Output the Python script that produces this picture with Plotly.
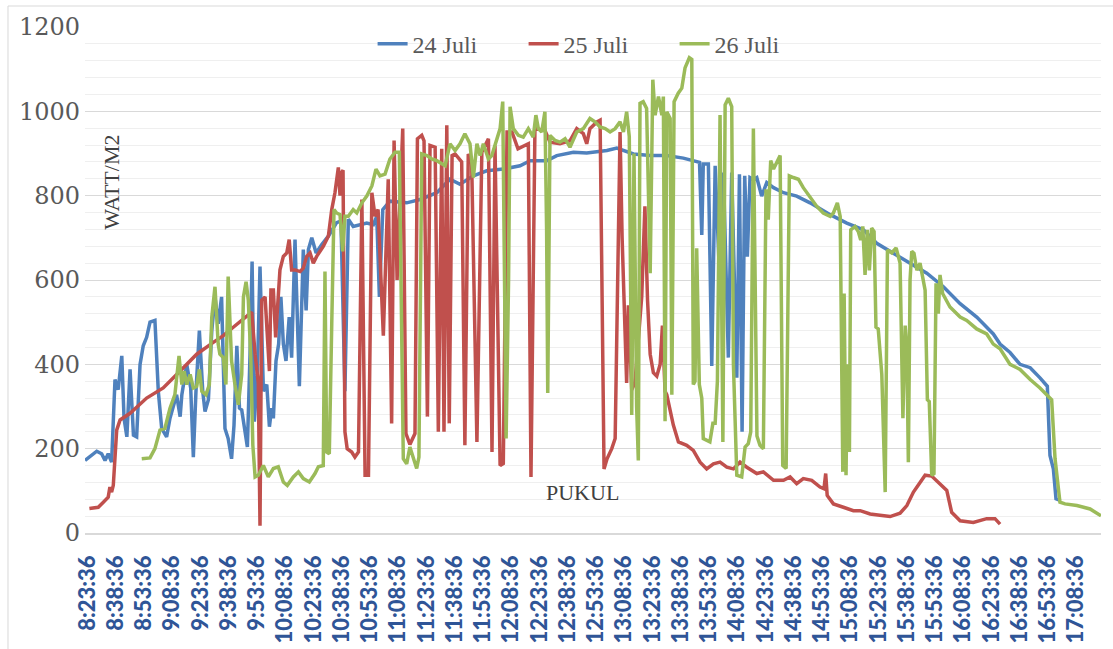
import plotly.graph_objects as go

# x-axis tick labels (time of day)
tick_labels = ["8:23:36", "8:38:36", "8:53:36", "9:08:36", "9:23:36", "9:38:36", "9:53:36",
               "10:08:36", "10:23:36", "10:38:36", "10:53:36", "11:08:36", "11:23:36", "11:38:36",
               "11:53:36", "12:08:36", "12:23:36", "12:38:36", "12:53:36", "13:08:36", "13:23:36",
               "13:38:36", "13:53:36", "14:08:36", "14:23:36", "14:38:36", "14:53:36", "15:08:36",
               "15:23:36", "15:38:36", "15:53:36", "16:08:36", "16:23:36", "16:38:36", "16:53:36",
               "17:08:36"]

series_names = ["24 Juli", "25 Juli", "26 Juli"]

# minutes elapsed since 8:23:36 and irradiance (W/m2)
t_24 = [-1.3, 4.9, 7.5, 9.3, 11.0, 12.8, 14.6, 16.3, 18.2, 19.4,
        20.9, 22.6, 24.4, 26.1, 27.9, 29.6, 31.4, 33.2, 35.8, 37.6,
        39.4, 42.0, 43.8, 45.5, 47.3, 49.2, 50.1, 52.7, 54.8, 56.2,
        57.6, 59.4, 61.2, 62.4, 64.2, 66.0, 67.7, 69.4, 71.2, 73.0,
        74.7, 76.5, 77.8, 79.3, 80.7, 81.9, 83.7, 84.9, 86.3, 87.4,
        88.6, 90.2, 91.6, 93.4, 95.2, 96.6, 97.8, 98.7, 100.1, 101.5,
        102.7, 104.0, 105.4, 107.1, 108.4, 110.2, 112.5, 114.6, 116.1, 117.3,
        119.1, 121.4, 124.4, 127.9, 132.3, 134.6, 136.7, 138.5, 141.1, 144.8,
        148.3, 151.8, 153.6, 155.0, 156.8, 160.6, 169.5, 176.6, 185.5, 192.5,
        197.8, 204.9, 212.0, 220.8, 229.7, 235.0, 243.9, 249.2, 258.0, 265.1,
        275.8, 281.1, 289.9, 298.8, 307.6, 316.4, 323.5, 325.0, 326.2, 327.0,
        329.7, 331.5, 333.3, 335.9, 337.7, 340.3, 342.1, 344.8, 346.2, 347.6,
        349.0, 350.4, 351.8, 353.6, 355.4, 358.0, 360.7, 364.3, 369.6, 376.6,
        383.7, 394.4, 403.2, 412.0, 419.1, 428.0, 436.8, 445.7, 454.5, 463.4,
        472.2, 481.0, 484.6, 489.9, 495.2, 500.6, 505.8, 509.7, 511.1, 512.9,
        514.3, 516.8]
v_24 = [172, 194, 188, 172, 188, 168, 364, 340, 420, 272,
        228, 388, 232, 228, 400, 444, 464, 500, 504, 336,
        248, 228, 272, 296, 328, 276, 328, 400, 344, 180,
        336, 480, 336, 288, 316, 480, 560, 496, 560, 248,
        224, 176, 256, 444, 296, 292, 232, 204, 424, 644,
        264, 376, 632, 336, 352, 252, 296, 272, 408, 448,
        560, 448, 408, 512, 416, 696, 348, 672, 528, 672,
        700, 664, 684, 704, 736, 740, 336, 744, 727, 731,
        735, 731, 751, 560, 767, 787, 783, 791, 807, 839,
        827, 847, 859, 863, 871, 883, 883, 895, 903, 901,
        907, 913, 899, 895, 895, 889, 879, 879, 707, 875,
        875, 396, 871, 576, 855, 416, 855, 368, 851, 240,
        847, 655, 843, 839, 843, 799, 831, 819, 807, 799,
        783, 755, 735, 719, 687, 664, 640, 616, 584, 544,
        512, 472, 448, 428, 400, 392, 368, 348, 184, 152,
        81, 77]

t_25 = [1.0, 5.7, 8.4, 11.0, 11.9, 12.8, 13.7, 15.5, 17.3, 22.6,
        31.4, 40.2, 49.2, 58.0, 66.8, 72.1, 77.4, 82.8, 87.2, 89.0,
        90.7, 91.6, 92.5, 94.3, 95.5, 96.6, 97.4, 98.7, 99.9, 101.2,
        102.2, 104.0, 105.8, 107.1, 108.4, 110.2, 112.9, 114.6, 116.4, 118.2,
        119.9, 121.7, 125.2, 127.9, 129.7, 131.4, 133.2, 134.1, 134.9, 135.7,
        136.7, 137.9, 140.3, 142.0, 143.9, 145.7, 147.4, 149.2, 151.0, 152.7,
        154.3, 157.1, 159.7, 161.5, 162.8, 164.4, 167.4, 169.1, 171.2, 173.9,
        175.2, 177.5, 178.7, 180.5, 181.9, 184.6, 186.3, 188.1, 189.3, 190.8,
        192.1, 193.6, 195.2, 198.7, 200.4, 202.2, 204.0, 206.8, 209.4, 212.9,
        214.8, 216.4, 219.1, 220.8, 222.8, 225.4, 228.6, 234.1, 235.5, 237.6,
        242.9, 245.6, 250.9, 256.2, 259.8, 263.3, 265.1, 266.8, 270.5, 272.2,
        274.3, 275.9, 278.4, 280.2, 282.8, 283.9, 286.3, 287.2, 289.0, 290.7,
        294.3, 296.0, 297.4, 298.8, 300.5, 302.3, 304.1, 305.3, 306.7, 307.6,
        311.1, 313.8, 318.2, 321.7, 325.3, 328.8, 332.4, 335.9, 339.5, 343.0,
        346.5, 350.1, 355.4, 358.9, 364.3, 369.6, 373.1, 376.6, 380.1, 384.6,
        389.0, 391.1, 392.0, 392.8, 396.1, 401.4, 406.7, 410.3, 415.6, 420.8,
        426.2, 431.5, 435.1, 438.6, 442.1, 444.8, 448.3, 451.8, 456.3, 458.9,
        463.4, 470.4, 477.5, 481.9, 484.6]
v_25 = [58, 61, 73, 85, 109, 97, 113, 244, 268, 284,
        320, 344, 384, 424, 452, 468, 488, 508, 524, 424,
        356, 17, 552, 560, 448, 384, 576, 576, 464, 576,
        624, 656, 664, 696, 624, 624, 620, 628, 656, 664,
        640, 656, 680, 704, 767, 807, 867, 800, 855, 860,
        240, 200, 192, 180, 192, 791, 137, 137, 807, 751,
        767, 468, 839, 260, 931, 600, 959, 236, 210, 236,
        935, 943, 930, 276, 919, 915, 240, 911, 240, 967,
        260, 895, 899, 880, 208, 899, 879, 216, 903, 935,
        192, 919, 160, 165, 951, 951, 911, 923, 133, 959,
        955, 927, 923, 930, 959, 947, 923, 959, 975, 979,
        152, 176, 200, 224, 951, 700, 356, 540, 340, 356,
        560, 775, 552, 424, 380, 372, 400, 492, 336, 328,
        256, 216, 208, 196, 168, 152, 164, 168, 156, 152,
        168, 156, 141, 145, 125, 125, 133, 117, 129, 125,
        109, 105, 141, 89, 69, 61, 53, 53, 45, 42,
        39, 47, 65, 97, 121, 137, 135, 121, 101, 49,
        29, 25, 34, 34, 21]

t_26 = [28.8, 33.2, 35.8, 38.5, 41.1, 43.8, 46.4, 47.3, 48.6, 50.1,
        51.3, 52.7, 54.5, 56.2, 58.0, 59.4, 60.7, 62.9, 64.7, 66.0,
        67.7, 69.4, 70.3, 72.1, 73.5, 74.7, 76.5, 78.3, 80.1, 81.9,
        82.8, 84.2, 85.4, 86.7, 87.8, 89.0, 90.7, 93.4, 96.0, 98.7,
        101.3, 104.0, 106.1, 109.3, 112.0, 114.6, 117.8, 120.8, 122.6, 125.2,
        126.1, 127.0, 128.4, 129.7, 130.9, 132.3, 134.1, 135.5, 136.7, 138.5,
        141.1, 143.0, 145.7, 148.3, 151.0, 153.2, 155.3, 158.0, 160.6, 163.3,
        165.6, 167.7, 169.5, 171.2, 173.0, 174.8, 176.0, 177.5, 180.2, 182.8,
        185.5, 187.2, 189.9, 192.5, 195.2, 197.8, 200.4, 203.1, 204.9, 206.8,
        208.5, 210.2, 212.9, 214.7, 216.4, 219.1, 220.5, 221.2, 222.3, 223.6,
        224.4, 226.1, 228.8, 231.4, 234.1, 236.7, 238.1, 239.4, 241.2, 242.9,
        243.8, 244.4, 245.6, 248.3, 250.9, 253.6, 256.2, 259.8, 263.3, 266.8,
        269.5, 272.2, 274.9, 277.5, 280.2, 282.8, 284.6, 286.3, 287.7, 289.0,
        290.2, 291.6, 292.5, 293.4, 295.1, 296.9, 298.8, 300.2, 301.4, 303.2,
        305.0, 305.8, 306.7, 307.6, 309.4, 310.3, 311.5, 313.7, 315.6, 317.3,
        319.6, 320.9, 321.7, 322.6, 323.5, 324.9, 326.2, 327.0, 328.8, 330.5,
        332.1, 333.3, 334.5, 335.9, 337.4, 338.6, 340.3, 342.1, 343.0, 344.8,
        347.4, 349.2, 350.9, 352.2, 353.6, 355.5, 357.1, 358.9, 360.3, 361.5,
        362.8, 364.3, 367.8, 369.2, 371.0, 372.7, 374.8, 377.5, 380.1, 383.7,
        387.2, 390.7, 394.4, 396.1, 398.2, 399.7, 401.1, 401.8, 402.8, 403.5,
        404.6, 405.3, 407.6, 409.3, 410.6, 411.7, 412.9, 414.1, 415.2, 416.4,
        417.7, 418.7, 419.9, 421.8, 423.6, 424.8, 427.1, 429.4, 431.5, 433.0,
        434.2, 435.1, 435.9, 436.8, 437.7, 438.9, 440.4, 442.1, 444.8, 446.0,
        447.0, 448.3, 449.5, 450.6, 451.8, 452.7, 454.1, 458.0, 463.4, 466.9,
        472.2, 477.5, 481.0, 484.6, 487.2, 489.9, 495.2, 500.6, 505.8, 512.0,
        513.8, 516.4, 519.1, 525.4, 532.4, 538.2]
v_26 = [176, 178, 200, 244, 248, 296, 328, 360, 420, 352,
        384, 352, 376, 344, 348, 388, 336, 328, 352, 512,
        584, 448, 424, 416, 352, 608, 408, 352, 304, 376,
        560, 596, 552, 416, 208, 133, 137, 160, 133, 153,
        157, 121, 113, 133, 145, 129, 121, 141, 157, 160,
        620, 192, 188, 496, 767, 759, 755, 668, 751, 751,
        767, 759, 783, 799, 823, 863, 847, 851, 887, 903,
        903, 176, 164, 204, 176, 153, 180, 899, 895, 887,
        883, 879, 871, 923, 907, 923, 947, 923, 843, 923,
        895, 923, 887, 895, 919, 959, 1023, 735, 224, 600,
        1011, 959, 943, 939, 959, 939, 991, 959, 951, 999,
        719, 332, 943, 931, 927, 935, 915, 951, 959, 983,
        975, 963, 959, 951, 959, 975, 951, 999, 940, 280,
        900, 300, 172, 1019, 1023, 1007, 616, 1075, 991, 1035,
        991, 1035, 265, 999, 983, 328, 1023, 1043, 1055, 1103,
        1127, 1123, 352, 360, 675, 352, 320, 224, 220, 216,
        260, 260, 360, 991, 216, 1015, 1031, 1011, 400, 137,
        133, 204, 212, 240, 959, 230, 208, 200, 815, 743,
        883, 863, 895, 160, 153, 847, 843, 839, 819, 795,
        775, 759, 751, 759, 783, 751, 145, 568, 137, 400,
        192, 719, 727, 715, 695, 727, 612, 719, 623, 723,
        715, 488, 484, 376, 97, 671, 664, 676, 640, 272,
        492, 440, 168, 600, 668, 663, 623, 640, 576, 316,
        312, 137, 141, 592, 520, 612, 568, 536, 512, 504,
        484, 472, 448, 437, 420, 400, 388, 364, 344, 316,
        176, 73, 69, 65, 57, 41]

colors = ["#4F81BD", "#C0504D", "#9BBB59"]


def to_minutes(label):
    h, m, s = (int(p) for p in label.split(":"))
    return h * 60 + m + s / 60.0


start = to_minutes(tick_labels[0])
tick_vals = [to_minutes(lbl) - start for lbl in tick_labels]

fig = go.Figure()
for name, tx, vy, col in zip(series_names, [t_24, t_25, t_26], [v_24, v_25, v_26], colors):
    fig.add_trace(go.Scatter(x=tx, y=vy, mode="lines", name=name,
                             line=dict(color=col, width=3.5)))

fig.update_layout(
    width=1113, height=649,
    margin=dict(l=85, r=12, t=27, b=116, autoexpand=False),
    paper_bgcolor="white", plot_bgcolor="white",
    showlegend=True,
    legend=dict(orientation="h", x=0.506, xanchor="center", y=0.966, yanchor="middle",
                font=dict(family="Liberation Serif", size=24, color="#595959"),
                bgcolor="rgba(0,0,0,0)", entrywidth=106, entrywidthmode="pixels",
                itemclick=False),
    xaxis=dict(range=[-1.33, 538.2], tickmode="array", tickvals=tick_vals, ticktext=tick_labels,
               tickangle=-90, automargin=False,
               tickfont=dict(family="Lato", size=22, color="#2F5597", weight=900),
               showgrid=False, zeroline=False, showline=True, linecolor="#D9D9D9", linewidth=1.5,
               ticks="", ticklabelstandoff=12),
    yaxis=dict(range=[0, 1200], tick0=0, dtick=200, showgrid=True, gridcolor="#D9D9D9", gridwidth=1.3,
               minor=dict(dtick=40, showgrid=True, gridcolor="#EFEFEF", gridwidth=1),
               zeroline=False, ticks="", automargin=False, ticklabelstandoff=4,
               tickfont=dict(family="DejaVu Serif", size=24, color="#595959")),
    annotations=[
        dict(text="WATT/M2", xref="paper", yref="paper", x=0.0266, y=0.692, showarrow=False,
             xanchor="center", yanchor="middle", textangle=-90,
             font=dict(family="Liberation Serif", size=22, color="#404040")),
        dict(text="PUKUL", xref="paper", yref="paper", x=0.4897, y=0.080, showarrow=False,
             xanchor="center", yanchor="middle",
             font=dict(family="Liberation Serif", size=22, color="#404040")),
    ],
    shapes=[dict(type="rect", xref="paper", yref="paper", x0=-0.0758, x1=1.02, y0=-0.26, y1=1.0415,
                 line=dict(color="#D9D9D9", width=1), fillcolor="rgba(0,0,0,0)", layer="below")],
)

fig.write_html("out.html", config={"displayModeBar": False},
               post_script="document.body.style.margin='0';")
